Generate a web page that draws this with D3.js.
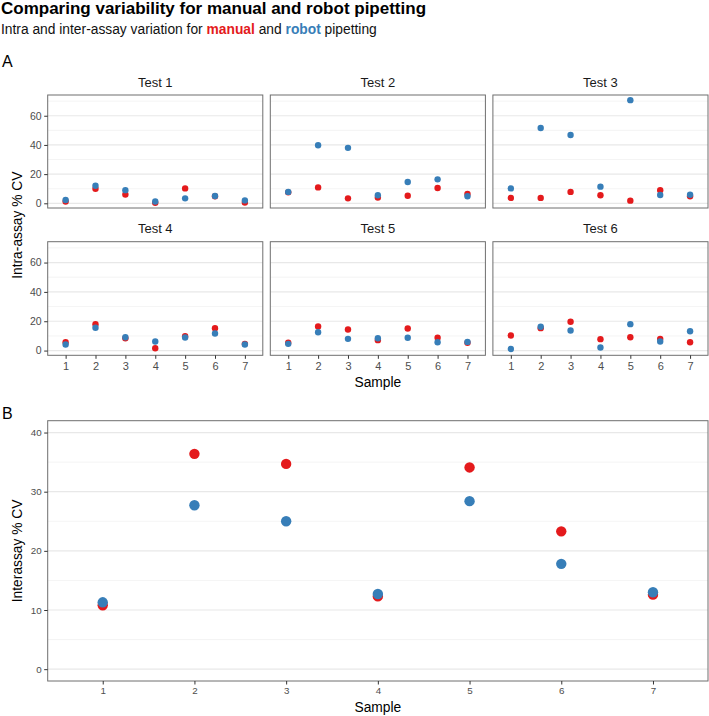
<!DOCTYPE html>
<html><head><meta charset="utf-8">
<script src="https://cdn.jsdelivr.net/npm/d3@7"></script>
<style>
body{margin:0;background:#fff;}
text{font-family:"Liberation Sans","Helvetica",Arial,sans-serif;}
</style></head>
<body><svg id="chart" width="709" height="716"></svg>
<script>
const samples = [1, 2, 3, 4, 5, 6, 7];
const tests = ["Test 1", "Test 2", "Test 3", "Test 4", "Test 5", "Test 6"];
const intraManual = [
  [1.2, 10.0, 6.0, 0.3, 10.2, 4.8, 0.5],
  [7.5, 10.9, 3.4, 3.9, 5.2, 10.5, 6.4],
  [3.7, 3.7, 7.8, 5.5, 1.8, 8.9, 4.8],
  [5.7, 18.0, 8.4, 1.6, 9.8, 15.3, 4.6],
  [5.3, 16.4, 14.4, 7.1, 15.0, 8.7, 5.3],
  [10.3, 15.3, 19.6, 7.8, 9.1, 8.0, 5.7]
];
const intraRobot = [
  [2.3, 12.0, 9.0, 1.2, 3.4, 5.0, 2.0],
  [7.8, 39.8, 38.0, 5.5, 14.6, 16.4, 4.8],
  [10.2, 51.6, 46.8, 11.4, 70.7, 5.7, 5.9],
  [4.1, 15.6, 9.1, 6.2, 8.9, 11.6, 4.1],
  [4.6, 12.5, 8.0, 8.4, 8.7, 5.7, 5.9],
  [1.1, 16.2, 13.7, 2.1, 18.0, 6.2, 13.2]
];
const interManual = [10.8, 36.4, 34.7, 12.3, 34.1, 23.3, 12.6];
const interRobot = [11.3, 27.7, 25.0, 12.7, 28.4, 17.8, 13.0];
const intraTicks = [0, 20, 40, 60];
const intraMinor = [10, 30, 50, 70];
const interTicks = [0, 10, 20, 30, 40];
const interMinor = [5, 15, 25, 35];

const RED = "#E41A1C", BLUE = "#377EB8";
const svg = d3.select("#chart");

// Title
svg.append("text").attr("x", 1).attr("y", 14).attr("font-size", 17).attr("font-weight", "bold")
  .attr("fill", "#000").text("Comparing variability for manual and robot pipetting");
const sub = svg.append("text").attr("x", 1).attr("y", 34).attr("font-size", 13.8).attr("fill", "#111");
sub.append("tspan").text("Intra and inter-assay variation for ");
sub.append("tspan").attr("fill", RED).attr("font-weight", "bold").text("manual");
sub.append("tspan").text(" and ");
sub.append("tspan").attr("fill", BLUE).attr("font-weight", "bold").text("robot");
sub.append("tspan").text(" pipetting");

svg.append("text").attr("x", 2).attr("y", 67).attr("font-size", 16).text("A");
svg.append("text").attr("x", 2).attr("y", 418.5).attr("font-size", 16).text("B");

// Panel A
const aLeft = 47.7, aRight = 708, gap = 7.5;
const pw = (aRight - aLeft - 2 * gap) / 3;
const rows = [{top: 95, bottom: 208}, {top: 241.7, bottom: 355.3}];
const allIntra = intraManual.flat().concat(intraRobot.flat());
const ext = d3.extent(allIntra);
const pad = (ext[1] - ext[0]) * 0.05;

function drawPanel(g, x0, x1, y0, y1, yDomain, ticks, minor, man, rob, r) {
  const x = d3.scalePoint().domain(samples).range([x0, x1]).padding(0.6);
  const y = d3.scaleLinear().domain(yDomain).range([y1, y0]);
  g.selectAll(".minor").data(minor).enter().append("line")
    .attr("x1", x0).attr("x2", x1).attr("y1", d => y(d)).attr("y2", d => y(d))
    .attr("stroke", "#efefef").attr("stroke-width", 0.7);
  g.selectAll(".major").data(ticks).enter().append("line")
    .attr("x1", x0).attr("x2", x1).attr("y1", d => y(d)).attr("y2", d => y(d))
    .attr("stroke", "#e8e8e8").attr("stroke-width", 1.2);
  g.append("g").selectAll("circle").data(samples).enter().append("circle")
    .attr("cx", d => x(d)).attr("cy", (d, i) => y(man[i])).attr("r", r).attr("fill", RED);
  g.append("g").selectAll("circle").data(samples).enter().append("circle")
    .attr("cx", d => x(d)).attr("cy", (d, i) => y(rob[i])).attr("r", r).attr("fill", BLUE);
  g.append("rect").attr("x", x0).attr("y", y0).attr("width", x1 - x0).attr("height", y1 - y0)
    .attr("fill", "none").attr("stroke", "#6e6e6e").attr("stroke-width", 1);
  return {x, y};
}

function yAxis(g, x0, y, ticks, fs) {
  const ax = g.append("g").attr("transform", `translate(${x0},0)`)
    .call(d3.axisLeft(y).tickValues(ticks).tickSize(3.5).tickPadding(2.5));
  ax.select(".domain").remove();
  ax.selectAll("line").attr("stroke", "#333");
  ax.selectAll("text").attr("font-size", fs).attr("fill", "#4d4d4d")
    .attr("font-family", "Liberation Sans, Helvetica, Arial, sans-serif");
}
function xAxis(g, y0, x, fs) {
  const ax = g.append("g").attr("transform", `translate(0,${y0})`)
    .call(d3.axisBottom(x).tickSize(3.5).tickPadding(3));
  ax.select(".domain").remove();
  ax.selectAll("line").attr("stroke", "#333");
  ax.selectAll("text").attr("font-size", fs).attr("fill", "#4d4d4d")
    .attr("font-family", "Liberation Sans, Helvetica, Arial, sans-serif");
}

tests.forEach((t, i) => {
  const col = i % 3, row = Math.floor(i / 3);
  const x0 = aLeft + col * (pw + gap), x1 = x0 + pw;
  const {top, bottom} = rows[row];
  const g = svg.append("g");
  const sc = drawPanel(g, x0, x1, top, bottom, [ext[0] - pad, ext[1] + pad], intraTicks, intraMinor,
    intraManual[i], intraRobot[i], 3.2);
  svg.append("text").attr("x", (x0 + x1) / 2).attr("y", top - 8.5).attr("text-anchor", "middle")
    .attr("font-size", 13).attr("fill", "#1a1a1a").text(t);
  if (col === 0) yAxis(svg, x0, sc.y, intraTicks, 10.5);
  if (row === 1) xAxis(svg, bottom, sc.x, 11);
});

svg.append("text").attr("transform", `translate(22,${(rows[0].top + rows[1].bottom) / 2}) rotate(-90)`)
  .attr("text-anchor", "middle").attr("font-size", 13.8).text("Intra-assay % CV");
svg.append("text").attr("x", (aLeft + aRight) / 2).attr("y", 386.5).attr("text-anchor", "middle")
  .attr("font-size", 13.8).text("Sample");

// Panel B
const bTop = 420.7, bBottom = 681;
const gB = svg.append("g");
const scB = drawPanel(gB, aLeft, aRight, bTop, bBottom, [-2, 42], interTicks, interMinor,
  interManual, interRobot, 5.2);
yAxis(svg, aLeft, scB.y, interTicks, 9.8);
xAxis(svg, bBottom, scB.x, 9.8);
svg.append("text").attr("transform", `translate(22,${(bTop + bBottom) / 2}) rotate(-90)`)
  .attr("text-anchor", "middle").attr("font-size", 13.8).text("Interassay % CV");
svg.append("text").attr("x", (aLeft + aRight) / 2).attr("y", 711.5).attr("text-anchor", "middle")
  .attr("font-size", 13.8).text("Sample");
</script></body></html>
